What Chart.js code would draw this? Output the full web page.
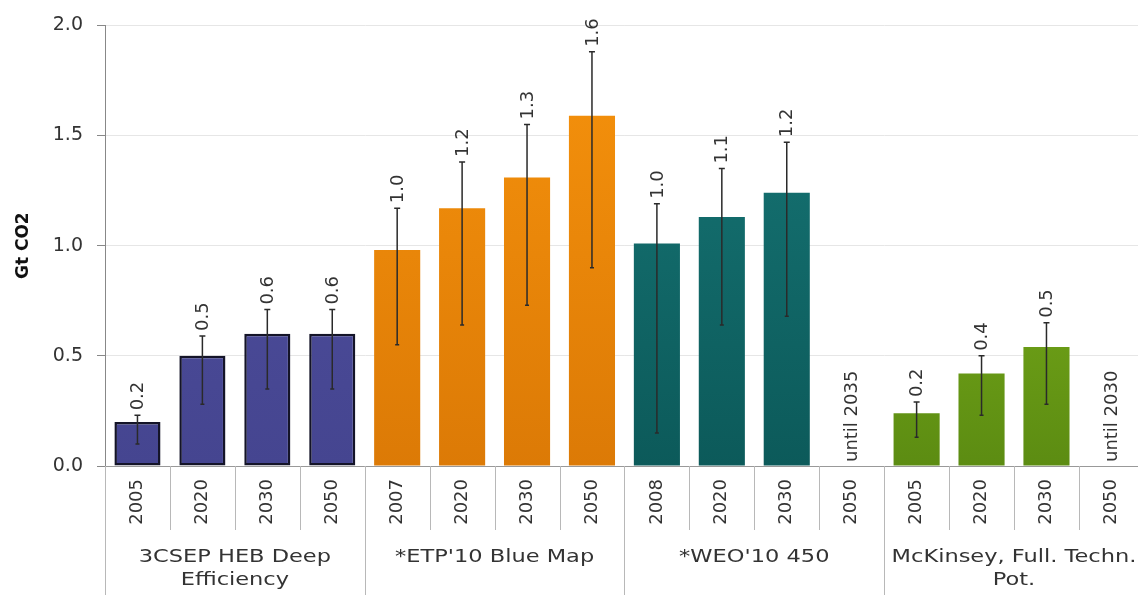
<!DOCTYPE html>
<html>
<head>
<meta charset="utf-8">
<script src="https://cdn.jsdelivr.net/npm/chart.js@4/dist/chart.umd.min.js"></script>
<style>
  html, body { margin: 0; padding: 0; background: #fff; overflow: hidden; }
  #wrap { width: 1146px; height: 595px; }
</style>
</head>
<body>
<div id="wrap"><canvas id="co2Chart"></canvas></div>
<script>
// Data
const years = ['2005', '2020', '2030', '2050', '2007', '2020', '2030', '2050', '2008', '2020', '2030', '2050', '2005', '2020', '2030', '2050'];
const groups = [['3CSEP HEB Deep', 'Efficiency'], ["*ETP'10 Blue Map"], ["*WEO'10 450"], ['McKinsey, Full. Techn.', 'Pot.']];
const values = [0.20, 0.50, 0.60, 0.60, 0.98, 1.17, 1.31, 1.59, 1.01, 1.13, 1.24, 0, 0.24, 0.42, 0.54, 0];
const errHigh = [0.23, 0.59, 0.71, 0.71, 1.17, 1.38, 1.55, 1.88, 1.19, 1.35, 1.47, null, 0.29, 0.50, 0.65, null];
const errLow = [0.10, 0.28, 0.35, 0.35, 0.55, 0.64, 0.73, 0.90, 0.15, 0.64, 0.68, null, 0.13, 0.23, 0.28, null];
const valueLabels = ['0.2', '0.5', '0.6', '0.6', '1.0', '1.2', '1.3', '1.6', '1.0', '1.1', '1.2', 'until 2035', '0.2', '0.4', '0.5', 'until 2030'];
const yTicks = [0, 0.5, 1.0, 1.5, 2.0];

// Styles per group
const topColors = ['#5050a0', '#f7930c', '#177777', '#8cc21f'];
const bottomColors = ['#454590', '#dc7a06', '#0c5a5a', '#5c8c12'];
const FONT = 'DejaVu Sans';
const groupOf = i => Math.floor(i / 4);

const overlay = {
    id: 'overlay',
    afterDatasetsDraw(chart) {
        const { ctx, scales: { y } } = chart;
        const meta = chart.getDatasetMeta(0);
        ctx.save();
        meta.data.forEach((bar, i) => {
            const cx = bar.x;
            let labelY = y.getPixelForValue(values[i]) - 4;
            if (errHigh[i] !== null) {
                const t = y.getPixelForValue(errHigh[i]);
                const b = y.getPixelForValue(errLow[i]);
                ctx.strokeStyle = '#2a2a2a';
                ctx.lineWidth = 1.5;
                ctx.beginPath();
                ctx.moveTo(cx, t); ctx.lineTo(cx, b);
                ctx.moveTo(cx - 3, t); ctx.lineTo(cx + 3, t);
                ctx.moveTo(cx - 2, b); ctx.lineTo(cx + 2, b);
                ctx.stroke();
                labelY = t - 5;
            }
            ctx.save();
            ctx.translate(cx + 1, labelY);
            ctx.rotate(-Math.PI / 2);
            ctx.fillStyle = '#333';
            ctx.font = '18px "' + FONT + '"';
            ctx.textAlign = 'left';
            ctx.textBaseline = 'middle';
            ctx.fillText(valueLabels[i], 0, 0);
            ctx.restore();
        });
        ctx.restore();
    },
    afterDraw(chart) {
        const { ctx, scales: { x } } = chart;
        const step = (x.right - x.left) / years.length;
        ctx.save();
        ctx.strokeStyle = '#b8b8b8';
        ctx.lineWidth = 1;
        for (let i = 0; i <= years.length; i++) {
            const bx = Math.round(x.left + i * step) + 0.5;
            ctx.beginPath();
            ctx.moveTo(bx, x.top);
            ctx.lineTo(bx, i % 4 === 0 ? chart.height : x.top + 64);
            ctx.stroke();
        }
        // group captions, a little wider like the source
        ctx.fillStyle = '#333';
        ctx.font = '18px "' + FONT + '"';
        ctx.textAlign = 'center';
        ctx.textBaseline = 'middle';
        groups.forEach((lines, g) => {
            const cx = x.left + (g * 4 + 2) * step;
            lines.forEach((line, k) => {
                ctx.save();
                ctx.translate(cx, x.top + 91 + k * 23);
                ctx.scale(1.25, 1);
                ctx.fillText(line, 0, 0);
                ctx.restore();
            });
        });
        ctx.restore();
    }
};

const ctx = document.getElementById('co2Chart').getContext('2d');
new Chart(ctx, {
    type: 'bar',
    data: {
        labels: years,
        datasets: [{
            label: 'Gt CO2',
            data: values,
            backgroundColor: (c) => {
                const g = groupOf(c.dataIndex);
                const area = c.chart.chartArea;
                if (!area) return topColors[g];
                const grad = c.chart.ctx.createLinearGradient(0, area.top, 0, area.bottom);
                grad.addColorStop(0, topColors[g]);
                grad.addColorStop(1, bottomColors[g]);
                return grad;
            },
            borderColor: values.map((v, i) => groupOf(i) === 0 ? '#141428' : 'rgba(0,0,0,0)'),
            borderWidth: values.map((v, i) => groupOf(i) === 0 ? 2.5 : 0),
            borderSkipped: false,
            barPercentage: 0.71,
            categoryPercentage: 1.0
        }]
    },
    options: {
        responsive: true,
        maintainAspectRatio: false,
        animation: false,
        layout: { padding: { top: 23, right: 0, left: 0, bottom: 0 } },
        plugins: {
            legend: { display: false },
            tooltip: { enabled: false }
        },
        scales: {
            x: {
                offset: true,
                grid: { display: false, drawTicks: false },
                border: { color: '#999' },
                ticks: {
                    color: '#333',
                    font: { family: FONT, size: 18 },
                    minRotation: 90,
                    maxRotation: 90,
                    padding: 13
                },
                afterFit: (scale) => { scale.height = 129; }
            },
            y: {
                min: 0,
                max: 2,
                afterBuildTicks: (scale) => { scale.ticks = yTicks.map(v => ({ value: v })); },
                grid: { color: '#e6e6e6', tickColor: '#888', tickLength: 8 },
                border: { color: '#888' },
                ticks: {
                    color: '#333',
                    font: { family: FONT, size: 19 },
                    padding: 14,
                    callback: (v) => Number(v).toFixed(1)
                },
                title: {
                    display: true,
                    text: 'Gt CO2',
                    color: '#111',
                    font: { family: FONT, size: 17, weight: 'bold' },
                    padding: { top: 13, bottom: 0 }
                },
                afterFit: (scale) => { scale.width = 105; }
            }
        }
    },
    plugins: [overlay]
});
</script>
</body>
</html>
